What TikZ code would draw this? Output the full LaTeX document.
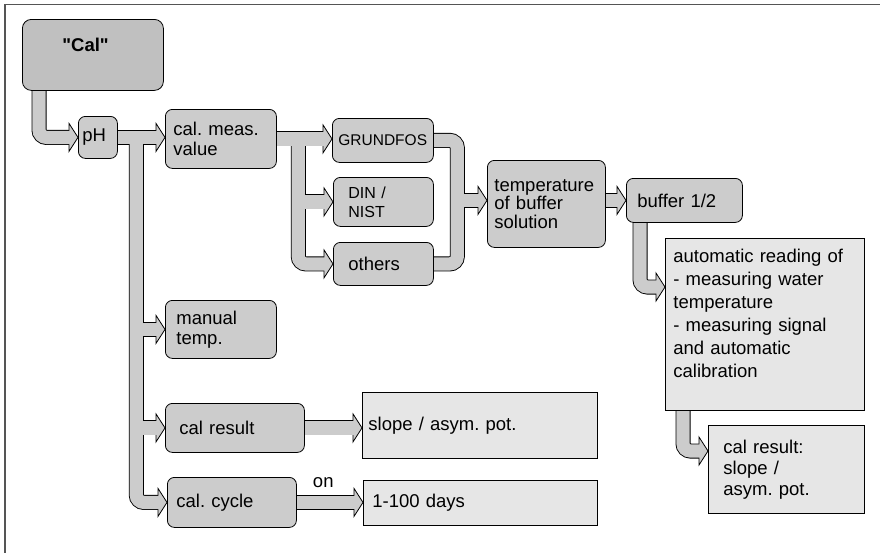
\documentclass[tikz,border=0pt]{standalone}
\usepackage{fontspec}
\setmainfont{Liberation Sans}
\frenchspacing
\usetikzlibrary{calc}
\definecolor{boxgray}{HTML}{CCCCCC}
\definecolor{calgray}{HTML}{C0C0C0}
\definecolor{notegray}{HTML}{E6E6E6}
\definecolor{framegray}{HTML}{555555}
\pgfdeclarelayer{pipes}
\pgfsetlayers{pipes,main}
\tikzset{
  menu/.style={draw, fill=boxgray, rounded corners=7pt, line width=0.8pt, anchor=north west,
    align=left, inner ysep=2pt, font=\fontsize{18.5}{20}\selectfont},
  note/.style={draw, fill=notegray, line width=0.8pt, anchor=north west,
    align=left, inner ysep=2pt, font=\fontsize{18.5}{21}\selectfont},
  pipe out/.style={line width=15pt, draw=black, rounded corners=7.5pt},
  pipe in/.style={line width=13.2pt, draw=boxgray, rounded corners=7.5pt},
  pipehead/.pic={\filldraw[fill=boxgray, draw=black, line width=0.8pt] (0,0) -- (-9,-14) -- (-9,14) -- cycle;}
}
% fat arrows, drawn once as outline and once as filling
\newcommand\pipes[1]{
  \draw[#1] ($(cal.south west)+(17,-2)$) |- ($(tph)+(-8,0)$);
  \draw[#1] ($(ph.east)+(-2,0)$) -- ($(tmeas)+(-8,0)$);
  \draw[#1] (phtrunk) |- ($(tcyc)+(-8,0)$);
  \draw[#1] (phtrunk |- tman) -- ($(tman)+(-8,0)$);
  \draw[#1] (phtrunk |- tres) -- ($(tres)+(-8,0)$);
  \draw[#1] ($(meas.east)+(-2,0)$) -- ($(tgrund)+(-8,0)$);
  \draw[#1] (meastrunk) |- ($(toth)+(-8,0)$);
  \draw[#1] (meastrunk |- tdin) -- ($(tdin)+(-8,0)$);
  \draw[#1] ($(grund.east)+(-2,0)$) -- (mergetop) |- ($(oth.east)+(-2,0)$);
  \draw[#1] (mergetop |- ttemp) -- ($(ttemp)+(-8,0)$);
  \draw[#1] ($(temp.east |- tbuf)+(-2,0)$) -- ($(tbuf)+(-8,0)$);
  \draw[#1] ($(buf.south west)+(14,-2)$) |- ($(tauto)+(-8,0)$);
  \draw[#1] ($(auto.south west)+(18,-2)$) |- ($(tres2)+(-8,0)$);
  \draw[#1] ($(res.east)+(-2,0)$) -- ($(tslope)+(-8,0)$);
  \draw[#1] ($(cyc.east)+(-2,0)$) -- ($(tdays)+(-8,0)$);
}
\begin{document}
\begin{tikzpicture}[x=1pt, y=-1pt]
  \useasboundingbox (0,0) rectangle (880,552);
  \draw[framegray, line width=1.8pt] (4.8,570) -- (4.8,4.5) -- (900,4.5);
  % menu boxes
  \node[menu, fill=calgray, rounded corners=9pt, minimum height=71pt, text width=61pt, inner xsep=40pt,
    font=\bfseries\fontsize{18.5}{20}\selectfont] (cal) at (22,19) {\textquotedbl Cal\textquotedbl\\ ~};
  \node[menu, minimum height=42pt, text width=31pt, inner xsep=4pt] (ph) at (78,116) {pH};
  \node[menu, minimum height=59pt, text width=95pt, inner xsep=8pt] (meas) at (165,109) {cal. meas.\\value};
  \node[menu, minimum height=44pt, text width=89pt, inner xsep=6pt,
    font=\fontsize{15.5}{19}\selectfont] (grund) at (332,118) {GRUNDFOS};
  \node[menu, minimum height=49pt, text width=70pt, inner xsep=15pt,
    font=\fontsize{16}{19}\selectfont] (din) at (333,177) {DIN /\\NIST};
  \node[menu, minimum height=43pt, text width=70pt, inner xsep=15pt] (oth) at (333,242) {others};
  \node[menu, minimum height=87pt, text width=104pt, inner xsep=7pt,
    font=\fontsize{18.5}{18.5}\selectfont] (temp) at (487,160) {temperature\\of buffer\\solution};
  \node[menu, minimum height=44pt, text width=94pt, inner xsep=11pt] (buf) at (626,178) {buffer 1/2};
  \node[menu, minimum height=58pt, text width=89pt, inner xsep=11pt] (man) at (165,300) {manual\\temp.};
  \node[menu, minimum height=49pt, text width=111pt, inner xsep=14pt] (res) at (165,403) {cal result};
  \node[menu, minimum height=50pt, text width=111pt, inner xsep=9pt] (cyc) at (167,477) {cal. cycle};
  % result boxes
  \node[note, minimum height=66pt, text width=223pt, inner xsep=6pt] (slope) at (362,392) {slope / asym. pot.};
  \node[note, minimum height=45pt, text width=216pt, inner xsep=9pt] (days) at (363,480) {1-100 days};
  \node[note, minimum height=172pt, text width=183pt, inner xsep=8pt,
    font=\fontsize{18.5}{23}\selectfont] (auto) at (665,238)
    {automatic reading of\\- measuring water\\temperature\\- measuring signal\\and automatic\\calibration\\~};
  \node[note, minimum height=88pt, text width=126pt, inner xsep=15pt] (res2) at (708,425) {cal result:\\slope /\\asym. pot.};
  \path (cyc.east) -- (days.west) node[pos=0.4, above=11pt, font=\fontsize{18.5}{20}\selectfont] (on) {on};
  % arrow tips and junctions
  \coordinate (tph) at (ph.west);
  \coordinate (tmeas) at (meas.west |- ph.east);
  \coordinate (tman) at (man.west);
  \coordinate (tres) at (res.west);
  \coordinate (tcyc) at (cyc.west);
  \coordinate (tgrund) at (grund.west |- meas.east);
  \coordinate (tdin) at (din.west);
  \coordinate (toth) at (oth.west);
  \coordinate (ttemp) at (temp.west |- buf.west);
  \coordinate (tbuf) at (buf.west);
  \coordinate (tauto) at ($(auto.north west)+(0,49)$);
  \coordinate (tres2) at ($(res2.north west)+(0,26)$);
  \coordinate (tslope) at (slope.west |- res.east);
  \coordinate (tdays) at (days.west |- cyc.east);
  \coordinate (phtrunk) at ($(ph.east)+(18.5,0)$);
  \coordinate (meastrunk) at ($(meas.east)+(21.5,0)$);
  \coordinate (mergetop) at ($(grund.east)+(23.5,0)$);
  \begin{pgfonlayer}{pipes}
    \pipes{pipe out}
    \foreach \t in {tph,tmeas,tman,tres,tcyc,tgrund,tdin,toth,ttemp,tbuf,tauto,tres2,tslope,tdays}
      \pic at (\t) {pipehead};
    \pipes{pipe in}
  \end{pgfonlayer}
\end{tikzpicture}
\end{document}
